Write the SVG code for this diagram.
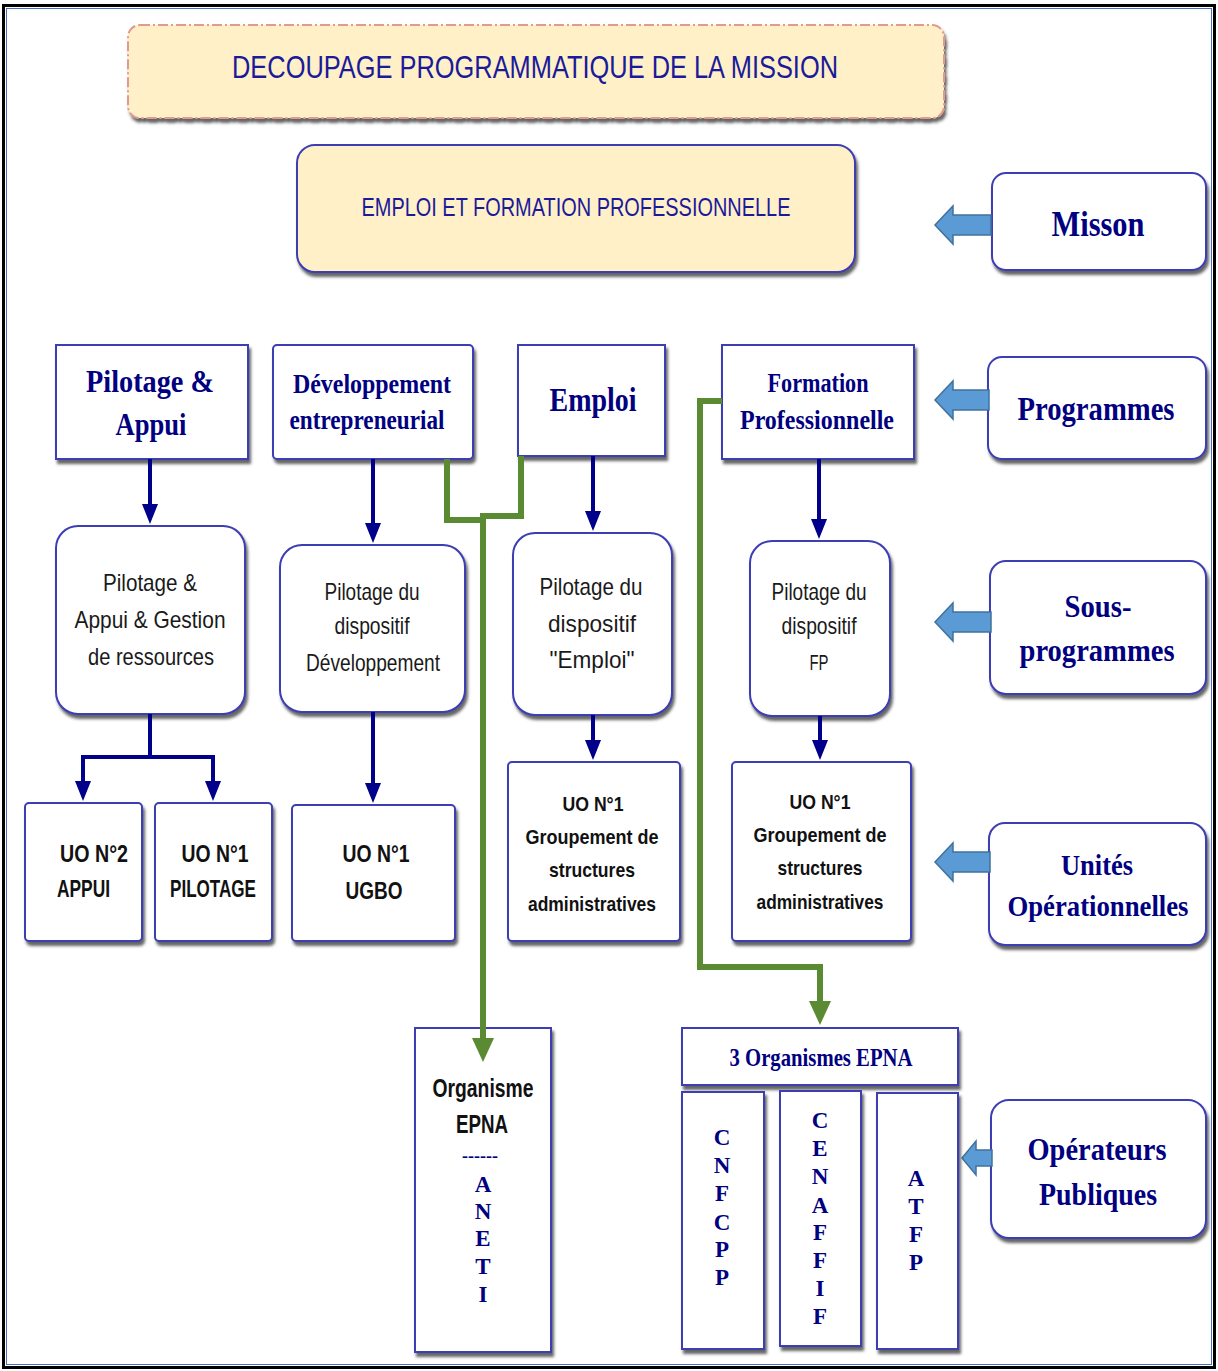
<svg xmlns="http://www.w3.org/2000/svg" width="1218" height="1371" viewBox="0 0 1218 1371">
<style>
.box{fill:#fff;stroke:#3c3cb4;stroke-width:2;filter:url(#sh)}
.cream{fill:#FFF0C8}
.ser{font-family:"Liberation Serif","Times New Roman",serif;font-weight:bold;fill:#000080;text-anchor:middle}
.cal{font-family:"Liberation Sans Narrow","Liberation Sans",Arial,sans-serif;fill:#1a1a1a;text-anchor:middle}
.calb{font-family:"Liberation Sans Narrow","Liberation Sans",Arial,sans-serif;font-weight:bold;fill:#111;text-anchor:middle}
.blu{fill:none;stroke:#00008B;stroke-width:4}
.grn{fill:none;stroke:#5A8A32;stroke-width:6}
.barr{fill:#5B9BD5;stroke:#41719C;stroke-width:1.5}
</style>
<defs>
<filter id="sh" x="-10%" y="-10%" width="125%" height="130%">
<feDropShadow dx="2" dy="4" stdDeviation="1.5" flood-color="#333" flood-opacity="0.75"/>
</filter>
<marker id="ab" viewBox="0 0 20 16" refX="14" refY="8" markerWidth="20" markerHeight="16" markerUnits="userSpaceOnUse" orient="auto">
<path d="M0,0 L20,8 L0,16 z" fill="#00008B"/>
</marker>
<marker id="ag" viewBox="0 0 24 22" refX="16" refY="11" markerWidth="24" markerHeight="22" markerUnits="userSpaceOnUse" orient="auto">
<path d="M0,0 L24,11 L0,22 z" fill="#5A8A32"/>
</marker>
</defs>
<rect x="0" y="0" width="1218" height="1371" fill="#fff"/>
<rect x="3.5" y="5.5" width="1211" height="1362" fill="none" stroke="#000" stroke-width="3"/>
<rect x="6.5" y="8.5" width="1205" height="1356" fill="none" stroke="#4a6fc0" stroke-width="1"/>

<g id="title">
<rect x="128" y="25" width="816" height="93" rx="12" fill="#FFF0C8" stroke="#E39A8C" stroke-width="2" stroke-dasharray="10 3 2 3" filter="url(#sh)"/>
<text x="535" y="78" font-family="'Liberation Sans Narrow','Liberation Sans',Arial,sans-serif" font-size="31" fill="#1a1a9a" text-anchor="middle" textLength="606" lengthAdjust="spacingAndGlyphs">DECOUPAGE PROGRAMMATIQUE DE LA MISSION</text>
</g>

<g id="mission">
<rect x="297" y="145" width="558" height="127" rx="18" class="box cream"/>
<text x="576" y="216" font-family="'Liberation Sans Narrow','Liberation Sans',Arial,sans-serif" font-size="26" fill="#1a1a9a" text-anchor="middle" textLength="429" lengthAdjust="spacingAndGlyphs">EMPLOI ET  FORMATION PROFESSIONNELLE</text>
</g>

<g id="lbl-misson">
<rect x="992" y="173" width="214" height="97" rx="14" class="box"/>
<text x="1098" y="236" class="ser" font-size="36" textLength="93" lengthAdjust="spacingAndGlyphs">Misson</text>
</g>
<g id="lbl-programmes">
<rect x="988" y="357" width="218" height="102" rx="14" class="box"/>
<text x="1096" y="420" class="ser" font-size="34" textLength="157" lengthAdjust="spacingAndGlyphs">Programmes</text>
</g>
<g id="lbl-sousprog">
<rect x="990" y="561" width="216" height="133" rx="16" class="box"/>
<text x="1098" y="617" class="ser" font-size="32" textLength="67" lengthAdjust="spacingAndGlyphs">Sous-</text>
<text x="1097" y="661" class="ser" font-size="32" textLength="155" lengthAdjust="spacingAndGlyphs">programmes</text>
</g>
<g id="lbl-uo">
<rect x="989" y="823" width="217" height="122" rx="16" class="box"/>
<text x="1097" y="875" class="ser" font-size="30" textLength="72" lengthAdjust="spacingAndGlyphs">Unités</text>
<text x="1098" y="916" class="ser" font-size="30" textLength="181" lengthAdjust="spacingAndGlyphs">Opérationnelles</text>
</g>
<g id="lbl-operateurs">
<rect x="991" y="1100" width="215" height="138" rx="18" class="box"/>
<text x="1097" y="1160" class="ser" font-size="32" textLength="139" lengthAdjust="spacingAndGlyphs">Opérateurs</text>
<text x="1098" y="1205" class="ser" font-size="32" textLength="118" lengthAdjust="spacingAndGlyphs">Publiques</text>
</g>

<g id="side-arrows">
<polygon class="barr" points="935,225 953,206 953,215 991,215 991,235 953,235 953,244"/>
<polygon class="barr" points="935,400 953,381 953,390 989,390 989,410 953,410 953,419"/>
<polygon class="barr" points="935,622 953,603 953,612 991,612 991,632 953,632 953,641"/>
<polygon class="barr" points="935,862 953,843 953,852 990,852 990,872 953,872 953,881"/>
<polygon class="barr" points="962,1158 976,1141 976,1150 992,1150 992,1166 976,1166 976,1175"/>
</g>

<g id="p-pilotage">
<rect x="56" y="345" width="192" height="114" class="box"/>
<text x="150" y="392" class="ser" font-size="32" textLength="128" lengthAdjust="spacingAndGlyphs">Pilotage &amp;</text>
<text x="151" y="435" class="ser" font-size="32" textLength="71" lengthAdjust="spacingAndGlyphs">Appui</text>
</g>
<g id="p-dev">
<rect x="273" y="345" width="200" height="114" rx="4" class="box"/>
<text x="372" y="393" class="ser" font-size="27" textLength="158" lengthAdjust="spacingAndGlyphs">Développement</text>
<text x="367" y="429" class="ser" font-size="27" textLength="155" lengthAdjust="spacingAndGlyphs">entrepreneurial</text>
</g>
<g id="p-emploi">
<rect x="518" y="345" width="147" height="111" class="box"/>
<text x="593" y="411" class="ser" font-size="34" textLength="87" lengthAdjust="spacingAndGlyphs">Emploi</text>
</g>
<g id="p-fp">
<rect x="722" y="345" width="192" height="114" class="box"/>
<text x="818" y="392" class="ser" font-size="27" textLength="101" lengthAdjust="spacingAndGlyphs">Formation</text>
<text x="817" y="429" class="ser" font-size="27" textLength="154" lengthAdjust="spacingAndGlyphs">Professionnelle</text>
</g>

<g id="sp-pilotage">
<rect x="56" y="526" width="189" height="188" rx="22" class="box"/>
<text x="150" y="591" class="cal" font-size="24" textLength="94" lengthAdjust="spacingAndGlyphs">Pilotage &amp;</text>
<text x="150" y="628" class="cal" font-size="24" textLength="151" lengthAdjust="spacingAndGlyphs">Appui &amp; Gestion</text>
<text x="151" y="665" class="cal" font-size="24" textLength="126" lengthAdjust="spacingAndGlyphs">de ressources</text>
</g>
<g id="sp-dev">
<rect x="280" y="545" width="185" height="167" rx="22" class="box"/>
<text x="372" y="600" class="cal" font-size="24" textLength="95" lengthAdjust="spacingAndGlyphs">Pilotage du</text>
<text x="372" y="634" class="cal" font-size="24" textLength="75" lengthAdjust="spacingAndGlyphs">dispositif</text>
<text x="373" y="671" class="cal" font-size="24" textLength="134" lengthAdjust="spacingAndGlyphs">Développement</text>
</g>
<g id="sp-emploi">
<rect x="513" y="533" width="159" height="182" rx="22" class="box"/>
<text x="591" y="595" class="cal" font-size="24" textLength="103" lengthAdjust="spacingAndGlyphs">Pilotage du</text>
<text x="592" y="632" class="cal" font-size="24" textLength="88" lengthAdjust="spacingAndGlyphs">dispositif</text>
<text x="592" y="668" class="cal" font-size="24" textLength="85" lengthAdjust="spacingAndGlyphs">"Emploi"</text>
</g>
<g id="sp-fp">
<rect x="750" y="541" width="140" height="175" rx="22" class="box"/>
<text x="819" y="600" class="cal" font-size="24" textLength="95" lengthAdjust="spacingAndGlyphs">Pilotage du</text>
<text x="819" y="634" class="cal" font-size="24" textLength="75" lengthAdjust="spacingAndGlyphs">dispositif</text>
<text x="819" y="670" class="cal" font-size="22" textLength="19" lengthAdjust="spacingAndGlyphs">FP</text>
</g>

<g id="uo-appui">
<rect x="25" y="803" width="117" height="138" rx="4" class="box"/>
<text x="60" y="862" class="calb" font-size="23" style="text-anchor:start" textLength="68" lengthAdjust="spacingAndGlyphs">UO N°2</text>
<text x="57" y="897" class="calb" font-size="23" style="text-anchor:start" textLength="53" lengthAdjust="spacingAndGlyphs">APPUI</text>
</g>
<g id="uo-pilotage">
<rect x="155" y="803" width="117" height="138" rx="4" class="box"/>
<text x="215" y="862" class="calb" font-size="23" textLength="67" lengthAdjust="spacingAndGlyphs">UO N°1</text>
<text x="213" y="897" class="calb" font-size="23" textLength="86" lengthAdjust="spacingAndGlyphs">PILOTAGE</text>
</g>
<g id="uo-ugbo">
<rect x="292" y="805" width="163" height="136" rx="4" class="box"/>
<text x="376" y="862" class="calb" font-size="23" textLength="67" lengthAdjust="spacingAndGlyphs">UO N°1</text>
<text x="374" y="899" class="calb" font-size="23" textLength="57" lengthAdjust="spacingAndGlyphs">UGBO</text>
</g>
<g id="uo-emploi">
<rect x="508" y="762" width="172" height="179" rx="4" class="box"/>
<text x="593" y="811" class="calb" font-size="21" textLength="61" lengthAdjust="spacingAndGlyphs">UO N°1</text>
<text x="592" y="844" class="calb" font-size="21" textLength="133" lengthAdjust="spacingAndGlyphs">Groupement de</text>
<text x="592" y="877" class="calb" font-size="21" textLength="86" lengthAdjust="spacingAndGlyphs">structures</text>
<text x="592" y="911" class="calb" font-size="21" textLength="128" lengthAdjust="spacingAndGlyphs">administratives</text>
</g>
<g id="uo-fp">
<rect x="732" y="762" width="179" height="179" rx="4" class="box"/>
<text x="820" y="809" class="calb" font-size="21" textLength="61" lengthAdjust="spacingAndGlyphs">UO N°1</text>
<text x="820" y="842" class="calb" font-size="21" textLength="133" lengthAdjust="spacingAndGlyphs">Groupement de</text>
<text x="820" y="875" class="calb" font-size="21" textLength="85" lengthAdjust="spacingAndGlyphs">structures</text>
<text x="820" y="909" class="calb" font-size="21" textLength="127" lengthAdjust="spacingAndGlyphs">administratives</text>
</g>

<g id="op-aneti">
<rect x="415" y="1028" width="136" height="324" class="box"/>
<text x="483" y="1097" class="calb" font-size="25" textLength="101" lengthAdjust="spacingAndGlyphs">Organisme</text>
<text x="482" y="1133" class="calb" font-size="25" textLength="52" lengthAdjust="spacingAndGlyphs">EPNA</text>
<text x="480" y="1162" class="ser" font-size="18" textLength="36" lengthAdjust="spacingAndGlyphs">------</text>
<text class="ser" font-size="23"><tspan x="483" y="1192">A</tspan><tspan x="483" y="1219">N</tspan><tspan x="483" y="1246">E</tspan><tspan x="483" y="1274">T</tspan><tspan x="483" y="1302">I</tspan></text>
</g>
<g id="op-header">
<rect x="682" y="1028" width="276" height="57" class="box"/>
<text x="821" y="1066" class="ser" font-size="26" textLength="183" lengthAdjust="spacingAndGlyphs">3 Organismes EPNA</text>
</g>
<g id="op-cnfcpp">
<rect x="682" y="1092" width="82" height="257" class="box"/>
<text class="ser" font-size="23"><tspan x="722" y="1145">C</tspan><tspan x="722" y="1173">N</tspan><tspan x="722" y="1201">F</tspan><tspan x="722" y="1230">C</tspan><tspan x="722" y="1257">P</tspan><tspan x="722" y="1285">P</tspan></text>
</g>
<g id="op-cenaffif">
<rect x="780" y="1091" width="81" height="255" class="box"/>
<text class="ser" font-size="23"><tspan x="820" y="1128">C</tspan><tspan x="820" y="1156">E</tspan><tspan x="820" y="1184">N</tspan><tspan x="820" y="1213">A</tspan><tspan x="820" y="1240">F</tspan><tspan x="820" y="1268">F</tspan><tspan x="820" y="1296">I</tspan><tspan x="820" y="1324">F</tspan></text>
</g>
<g id="op-atfp">
<rect x="877" y="1093" width="81" height="256" class="box"/>
<text class="ser" font-size="23"><tspan x="916" y="1186">A</tspan><tspan x="916" y="1214">T</tspan><tspan x="916" y="1242">F</tspan><tspan x="916" y="1270">P</tspan></text>
</g>

<g id="connectors">
<path class="blu" d="M150,459 V518" marker-end="url(#ab)"/>
<path class="blu" d="M373,459 V537" marker-end="url(#ab)"/>
<path class="blu" d="M593,456 V525" marker-end="url(#ab)"/>
<path class="blu" d="M819,459 V533" marker-end="url(#ab)"/>
<path class="blu" d="M150,714 V757"/>
<path class="blu" d="M81,757 H215"/>
<path class="blu" d="M83,757 V795" marker-end="url(#ab)"/>
<path class="blu" d="M213,757 V795" marker-end="url(#ab)"/>
<path class="blu" d="M373,712 V797" marker-end="url(#ab)"/>
<path class="blu" d="M593,715 V754" marker-end="url(#ab)"/>
<path class="blu" d="M820,716 V754" marker-end="url(#ab)"/>
<path class="grn" d="M447,459 V520 H486"/>
<path class="grn" d="M521,456 V516 H480"/>
<path class="grn" d="M483,516 V1054" marker-end="url(#ag)"/>
<path class="grn" d="M722,401 H700 V967 H820 V1017" marker-end="url(#ag)"/>
</g>
</svg>
